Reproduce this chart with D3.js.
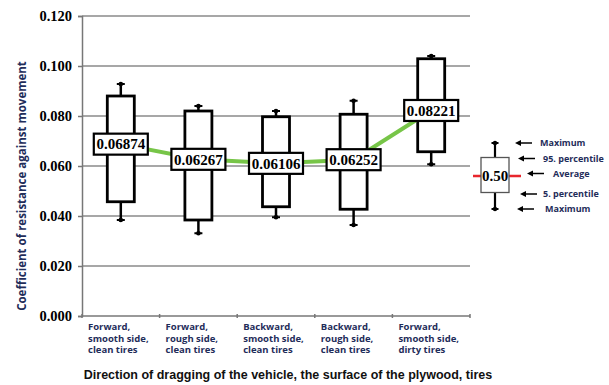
<!DOCTYPE html>
<html>
<head>
<meta charset="utf-8">
<script src="https://cdn.jsdelivr.net/npm/d3@7"></script>
<style>
  body { margin: 0; background: #fff; }
  svg { display: block; }
</style>
</head>
<body>
<script>
// data
var categories = [
    ["Forward,", "smooth side,", "clean tires"],
    ["Forward,", "rough side,", "clean tires"],
    ["Backward,", "smooth side,", "clean tires"],
    ["Backward,", "rough side,", "clean tires"],
    ["Forward,", "smooth side,", "dirty tires"]
];
var means = [0.06874, 0.06267, 0.06106, 0.06252, 0.08221];
var meanLabels = ["0.06874", "0.06267", "0.06106", "0.06252", "0.08221"];
var p95 = [0.0880, 0.0820, 0.0797, 0.0807, 0.1029];
var p5 = [0.0457, 0.0384, 0.0437, 0.0427, 0.0657];
var maxs = [0.0928, 0.0840, 0.0820, 0.0861, 0.1040];
var mins = [0.0384, 0.0331, 0.0395, 0.0364, 0.0607];
var yTicks = [0, 0.02, 0.04, 0.06, 0.08, 0.10, 0.12];
var legendItems = ["Maximum", "95. percentile", "Average", "5. percentile", "Maximum"];

// set the dimensions and margins of the graph
var margin = {top: 16, right: 139, bottom: 69, left: 82},
    width = 609 - margin.left - margin.right,
    height = 385 - margin.top - margin.bottom;

var navy = "#1f2d5a";

var svg = d3.select("body").append("svg")
    .attr("width", 609)
    .attr("height", 385);

var g = svg.append("g")
    .attr("transform", "translate(" + margin.left + "," + margin.top + ")");

// scales
var x = d3.scaleBand().domain(d3.range(categories.length)).range([0, width]);
var y = d3.scaleLinear().domain([0, 0.12]).range([height, 0]);

// grid lines
g.append("g")
    .selectAll("line")
    .data(yTicks.slice(1))
    .enter().append("line")
    .attr("x1", 0)
    .attr("x2", width)
    .attr("y1", function(d) { return y(d); })
    .attr("y2", function(d) { return y(d); })
    .style("stroke", "#8a8a8a")
    .style("stroke-width", 1.5);

// Y axis
var yAxis = g.append("g")
    .call(d3.axisLeft(y).tickValues(yTicks).tickFormat(d3.format(".3f")).tickSize(4).tickPadding(6));
yAxis.select(".domain").style("stroke", "#777").style("stroke-width", 1.5);
yAxis.selectAll(".tick line").style("stroke", "#777").style("stroke-width", 1.5);
yAxis.selectAll(".tick text")
    .style("font-family", "'Liberation Serif', 'DejaVu Serif', serif")
    .style("font-weight", "bold")
    .style("font-size", "14.5px")
    .style("fill", "#000");

// X axis
var xAxisG = g.append("g").attr("transform", "translate(0," + height + ")");
xAxisG.append("line")
    .attr("x1", 0).attr("x2", width)
    .style("stroke", "#777").style("stroke-width", 1.5);
xAxisG.selectAll(".xtick")
    .data(d3.range(categories.length + 1))
    .enter().append("line")
    .attr("class", "xtick")
    .attr("x1", function(d) { return d * x.step(); })
    .attr("x2", function(d) { return d * x.step(); })
    .attr("y1", -2).attr("y2", 2)
    .style("stroke", "#777").style("stroke-width", 1.5);

// category labels
categories.forEach(function(lines, i) {
    var t = xAxisG.append("text")
        .attr("x", x(i) + 6)
        .attr("y", 14)
        .style("font-family", "'Open Sans', 'Noto Sans', sans-serif")
        .style("font-weight", "bold")
        .style("font-size", "9.5px")
        .style("fill", navy);
    lines.forEach(function(l, j) {
        t.append("tspan").attr("x", x(i) + 6).attr("dy", j === 0 ? 0 : 11.5).text(l);
    });
});

// boxes
var boxW = 27;
var boxes = g.append("g").selectAll("g")
    .data(d3.range(categories.length))
    .enter().append("g");

boxes.append("line")
    .attr("x1", function(i) { return x(i) + x.bandwidth() / 2; })
    .attr("x2", function(i) { return x(i) + x.bandwidth() / 2; })
    .attr("y1", function(i) { return y(maxs[i]); })
    .attr("y2", function(i) { return y(mins[i]); })
    .style("stroke", "#000").style("stroke-width", 2.5);

boxes.append("rect")
    .attr("x", function(i) { return x(i) + x.bandwidth() / 2 - boxW / 2; })
    .attr("y", function(i) { return y(p95[i]); })
    .attr("width", boxW)
    .attr("height", function(i) { return y(p5[i]) - y(p95[i]); })
    .style("fill", "#fff")
    .style("stroke", "#000")
    .style("stroke-width", 2.8);

// whisker caps
function cap(sel, arr) {
    sel.append("line")
        .attr("x1", function(i) { return x(i) + x.bandwidth() / 2 - 4; })
        .attr("x2", function(i) { return x(i) + x.bandwidth() / 2 + 4; })
        .attr("y1", function(i) { return y(arr[i]); })
        .attr("y2", function(i) { return y(arr[i]); })
        .style("stroke", "#000").style("stroke-width", 2);
    sel.append("circle")
        .attr("cx", function(i) { return x(i) + x.bandwidth() / 2; })
        .attr("cy", function(i) { return y(arr[i]); })
        .attr("r", 2.3)
        .style("fill", "#000");
}
cap(boxes, maxs);
cap(boxes, mins);

// green line through the averages
var meanLine = d3.line()
    .x(function(d, i) { return x(i) + x.bandwidth() / 2; })
    .y(function(d) { return y(d); });

g.append("path")
    .datum(means)
    .attr("d", meanLine)
    .style("fill", "none")
    .style("stroke", "#77c548")
    .style("stroke-width", 4);

// average labels
var lab = g.append("g").selectAll("g")
    .data(d3.range(categories.length))
    .enter().append("g")
    .attr("transform", function(i) {
        return "translate(" + (x(i) + x.bandwidth() / 2) + "," + y(means[i]) + ")";
    });

lab.append("rect")
    .attr("x", -27).attr("y", -10.5)
    .attr("width", 54).attr("height", 21)
    .style("fill", "#fff")
    .style("stroke", "#000")
    .style("stroke-width", 2.2);

lab.append("text")
    .attr("text-anchor", "middle")
    .attr("dy", "0.35em")
    .style("font-family", "'Liberation Serif', 'DejaVu Serif', serif")
    .style("font-weight", "bold")
    .style("font-size", "15px")
    .text(function(i) { return meanLabels[i]; });

// axis titles
svg.append("text")
    .attr("transform", "translate(26," + (margin.top + height / 2 + 20) + ") rotate(-90)")
    .attr("text-anchor", "middle")
    .style("font-family", "'Open Sans', 'Noto Sans', sans-serif")
    .style("font-weight", "bold")
    .style("font-size", "11.5px")
    .style("fill", navy)
    .text("Coefficient of resistance against movement");

svg.append("text")
    .attr("x", 288)
    .attr("y", 379)
    .attr("text-anchor", "middle")
    .style("font-family", "'Liberation Sans', Arial, sans-serif")
    .style("font-weight", "bold")
    .style("font-size", "12.5px")
    .style("fill", "#111")
    .text("Direction of dragging of the vehicle, the surface of the plywood, tires");

// legend box
var lg = svg.append("g").attr("transform", "translate(495,0)");
var ly = d3.scaleLinear().domain([0, 4]).range([143, 209]);

lg.append("line")
    .attr("x1", 0).attr("x2", 0)
    .attr("y1", ly(0)).attr("y2", ly(4))
    .style("stroke", "#000").style("stroke-width", 2.2);
[0, 4].forEach(function(k) {
    lg.append("line").attr("x1", -3.5).attr("x2", 3.5)
        .attr("y1", ly(k)).attr("y2", ly(k))
        .style("stroke", "#000").style("stroke-width", 2);
    lg.append("circle").attr("cx", 0).attr("cy", ly(k)).attr("r", 2.2).style("fill", "#000");
});
lg.append("line")
    .attr("x1", -22).attr("x2", 26)
    .attr("y1", ly(2)).attr("y2", ly(2))
    .style("stroke", "#e8262c").style("stroke-width", 2.5);
lg.append("rect")
    .attr("x", -14).attr("y", 157.5)
    .attr("width", 28).attr("height", 35)
    .style("fill", "#fff")
    .style("stroke", "#555")
    .style("stroke-width", 1.3);
lg.append("text")
    .attr("y", ly(2))
    .attr("dy", "0.35em")
    .attr("text-anchor", "middle")
    .style("font-family", "'Liberation Serif', 'DejaVu Serif', serif")
    .style("font-weight", "bold")
    .style("font-size", "15px")
    .text("0.50");

// legend arrows and labels
var arrowX = [515, 518, 527, 520, 517];
var textX = [540, 543, 553, 543, 545];
var arrowYs = [143, 158.5, 173.5, 194, 209];

legendItems.forEach(function(t, k) {
    var ax = arrowX[k], ay = arrowYs[k];
    svg.append("line")
        .attr("x1", ax + 4).attr("x2", ax + 17)
        .attr("y1", ay).attr("y2", ay)
        .style("stroke", "#000").style("stroke-width", 1.5);
    svg.append("path")
        .attr("d", "M" + ax + "," + ay + "L" + (ax + 6) + "," + (ay - 3) + "L" + (ax + 6) + "," + (ay + 3) + "Z")
        .style("fill", "#000");
    svg.append("text")
        .attr("x", textX[k]).attr("y", ay)
        .attr("dy", "0.35em")
        .style("font-family", "'Open Sans', 'Noto Sans', sans-serif")
        .style("font-weight", "bold")
        .style("font-size", "9px")
        .style("fill", navy)
        .text(t);
});
</script>
</body>
</html>
